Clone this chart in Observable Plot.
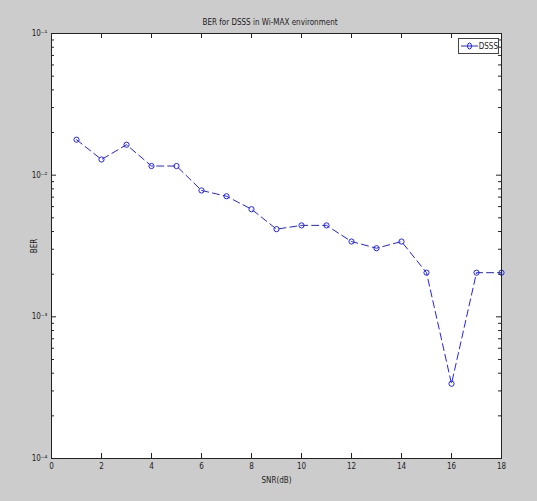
<!DOCTYPE html>
<html>
<head>
<meta charset="utf-8">
<script src="https://cdn.jsdelivr.net/npm/d3@7"></script>
<script src="https://cdn.jsdelivr.net/npm/@observablehq/plot@0.6"></script>
<style>
  html, body { margin: 0; padding: 0; background: #cccccc; }
  #wrap { position: relative; width: 537px; height: 501px; overflow: hidden;
          font-family: "Liberation Sans Narrow", "DejaVu Sans Condensed", "Arial Narrow", sans-serif; }
  #title { position: absolute; left: 0; width: 540px; top: 18px; text-align: center; font-size: 8px; color: #222; }
  #legend { position: absolute; left: 458px; top: 38px; width: 41px; height: 16px; background: #fff;
            border: 1px solid #444; font-size: 8px; color: #222; display: flex; align-items: center; box-sizing: border-box; padding-left: 2px; }
</style>
</head>
<body>
<div id="wrap">
  <div id="title">BER for DSSS in Wi-MAX environment</div>
  <div id="legend"><svg width="17" height="8"><line x1="0" y1="4" x2="17" y2="4" stroke="#2020ff" stroke-width="1"/><ellipse cx="8.5" cy="4" rx="2" ry="3" fill="none" stroke="#2020ff"/></svg><span style="margin-left:1px">DSSS</span></div>
</div>
<script>
const snr = [1, 2, 3, 4, 5, 6, 7, 8, 9, 10, 11, 12, 13, 14, 15, 16, 17, 18];
const ber = [0.0178, 0.0129, 0.0164, 0.0116, 0.0116, 0.0078, 0.0071, 0.00575, 0.00416, 0.00442, 0.00442, 0.0034, 0.00305, 0.0034, 0.00205, 0.000337, 0.00205, 0.00205];
const xTicks = [0, 2, 4, 6, 8, 10, 12, 14, 16, 18];
const yMajor = [1e-4, 1e-3, 1e-2, 1e-1];
const yLabels = ["10⁻⁴", "10⁻³", "10⁻²", "10⁻¹"];
const yMinor = [];
for (const d of [1e-4, 1e-3, 1e-2]) for (const m of [2, 3, 4, 5, 6, 7, 8, 9]) yMinor.push(d * m);

const data = snr.map((s, i) => ({snr: s, ber: ber[i]}));
const W = 537, H = 501, mL = 51, mR = 36, mT = 33, mB = 43;
const fw = W - mL - mR, fh = H - mT - mB;
const blue = "#2020ff";

const chart = Plot.plot({
  width: W, height: H,
  marginLeft: mL, marginRight: mR, marginTop: mT, marginBottom: mB,
  style: {background: "transparent", fontFamily: "'Liberation Sans Narrow', 'DejaVu Sans Condensed', sans-serif", fontSize: "8px", color: "#222"},
  x: {domain: [0, 18]},
  y: {type: "log", domain: [1e-4, 1e-1]},
  marks: [
    Plot.frame({fill: "white", stroke: "none"}),
    Plot.line(data, {x: "snr", y: "ber", stroke: blue, strokeWidth: 1, strokeDasharray: "7,4"}),
    Plot.dot(data, {x: "snr", y: "ber", r: 2.6, stroke: blue, fill: "none", strokeWidth: 1}),
    // inward ticks
    Plot.tickX(xTicks, {x: d => d, insetTop: fh - 5, stroke: "#222"}),
    Plot.tickX(xTicks, {x: d => d, insetBottom: fh - 5, stroke: "#222"}),
    Plot.tickY(yMajor, {y: d => d, insetRight: fw - 5, stroke: "#222"}),
    Plot.tickY(yMajor, {y: d => d, insetLeft: fw - 5, stroke: "#222"}),
    Plot.tickY(yMinor, {y: d => d, insetRight: fw - 3, stroke: "#222"}),
    Plot.tickY(yMinor, {y: d => d, insetLeft: fw - 3, stroke: "#222"}),
    Plot.frame({stroke: "#222", fill: "none"}),
    Plot.axisX({ticks: xTicks, tickSize: 0, tickPadding: 5, tickFormat: d => String(d),
      label: "SNR(dB)", labelAnchor: "center", labelArrow: "none", labelOffset: 24}),
    Plot.axisY({ticks: yMajor, tickSize: 0, tickPadding: 4,
      tickFormat: d => yLabels[yMajor.findIndex(v => Math.abs(v - d) / v < 1e-6)],
      label: "BER", labelAnchor: "center", labelArrow: "none", labelOffset: 20})
  ]
});
document.getElementById("wrap").prepend(chart);
</script>
</body>
</html>
